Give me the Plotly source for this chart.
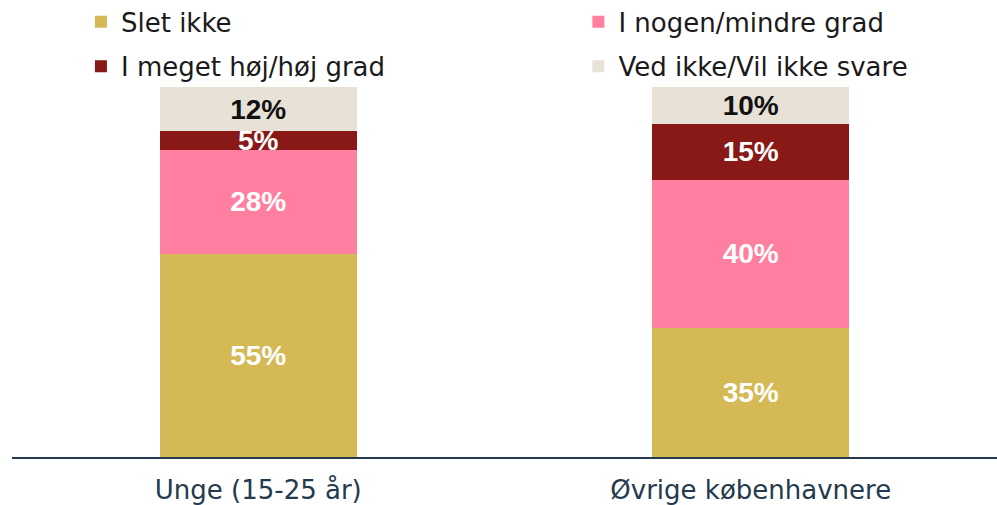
import plotly.graph_objects as go

categories = ["Unge (15-25 år)", "Øvrige københavnere"]
series_names = ["Slet ikke", "I nogen/mindre grad", "I meget høj/høj grad", "Ved ikke/Vil ikke svare"]
slet_ikke = [55, 35]
nogen_mindre = [28, 40]
meget_hoej = [5, 15]
ved_ikke = [12, 10]

values = [slet_ikke, nogen_mindre, meget_hoej, ved_ikke]
colors = ["#D4B955", "#FF7FA0", "#891916", "#E8E1D6"]
text_colors = ["white", "white", "white", "#111111"]
legend_ids = ["legend", "legend2", "legend3", "legend4"]

fig = go.Figure()
for name, vals, col, tcol, lg in zip(series_names, values, colors, text_colors, legend_ids):
    fig.add_trace(go.Bar(
        x=categories, y=vals, name=name, marker_color=col,
        marker_line_width=0, showlegend=True,
        text=[f"{v}%" for v in vals], textposition="inside",
        insidetextanchor="middle",
        textfont=dict(color=tcol, size=28, family="Liberation Sans, Arial, sans-serif", weight="bold"),
        legend=lg,
    ))

legend_common = dict(
    orientation="h", xanchor="left", yanchor="middle",
    font=dict(size=26, family="DejaVu Sans, sans-serif", color="#1a1a1a"),
    bgcolor="rgba(0,0,0,0)",
)

fig.update_layout(
    width=997, height=505,
    showlegend=True,
    barmode="stack", bargap=0.6,
    plot_bgcolor="white", paper_bgcolor="white",
    margin=dict(l=12, r=0, t=87, b=48, autoexpand=False),
    uniformtext=dict(minsize=28, mode="show"),
    legend=dict(legend_common, x=0.070, y=1.176),
    legend2=dict(legend_common, x=0.575, y=1.176),
    legend3=dict(legend_common, x=0.070, y=1.056),
    legend4=dict(legend_common, x=0.575, y=1.056),
    xaxis=dict(
        showline=True, linecolor="#243A4E", linewidth=2,
        ticks="", ticklabelstandoff=9,
        tickfont=dict(size=26, family="DejaVu Sans, sans-serif", color="#243A4E"),
        showgrid=False,
    ),
    yaxis=dict(range=[0, 100], visible=False, showgrid=False),
)

fig.write_html("out.html", config={"displayModeBar": False},
               post_script="document.body.style.margin='0';document.body.style.overflow='hidden';")
